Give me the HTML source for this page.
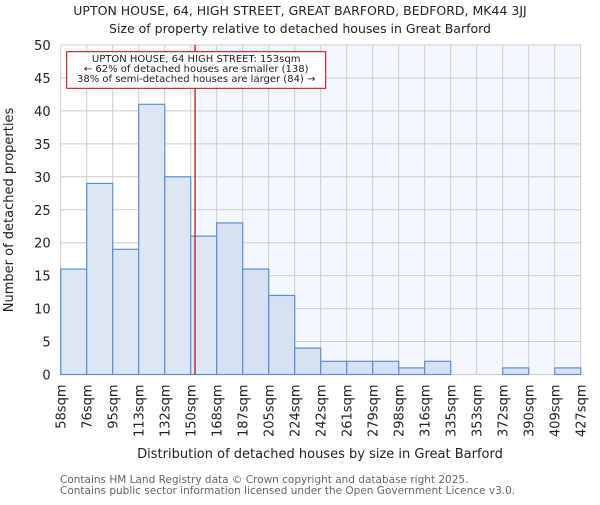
<!DOCTYPE html>
<html><head><meta charset="utf-8"><style>
body{margin:0;background:#fff;}
svg text{font-family:"DejaVu Sans","Liberation Sans",sans-serif;}
</style></head><body>
<svg width="600" height="500" xmlns="http://www.w3.org/2000/svg" id="chart">
<text x="300" y="15" text-anchor="middle" font-size="12.5" fill="#222">UPTON HOUSE, 64, HIGH STREET, GREAT BARFORD, BEDFORD, MK44 3JJ</text>
<text x="300" y="33" text-anchor="middle" font-size="12.5" fill="#222">Size of property relative to detached houses in Great Barford</text>
<g id="plot"></g>
<text x="320" y="458" text-anchor="middle" font-size="13" fill="#222">Distribution of detached houses by size in Great Barford</text>
<text transform="translate(13,210) rotate(-90)" text-anchor="middle" font-size="13" fill="#222">Number of detached properties</text>
<text x="60" y="483" font-size="10.5" fill="#666">Contains HM Land Registry data © Crown copyright and database right 2025.</text>
<text x="60" y="494" font-size="10.5" fill="#666">Contains public sector information licensed under the Open Government Licence v3.0.</text>
</svg>
<script>
const categories=["58sqm","76sqm","95sqm","113sqm","132sqm","150sqm","168sqm","187sqm","205sqm","224sqm","242sqm","261sqm","279sqm","298sqm","316sqm","335sqm","353sqm","372sqm","390sqm","409sqm","427sqm"];
const counts=[16,29,19,41,30,21,23,16,12,4,2,2,2,1,2,0,0,1,0,1];
const yTicks=[0,5,10,15,20,25,30,35,40,45,50];
const edgeValues=[58,76,95,113,132,150,168,187,205,224,242,261,279,298,316,335,353,372,390,409,427];
const markerValue=153;
const NS="http://www.w3.org/2000/svg";
const X0=60.7,X1=580.7,Y0=374.5,Y1=45;
const bw=(X1-X0)/counts.length;
function xIdx(i){return X0+i*bw;}
function xVal(v){for(let i=0;i<edgeValues.length-1;i++){if(v<=edgeValues[i+1]){return xIdx(i)+(v-edgeValues[i])/(edgeValues[i+1]-edgeValues[i])*bw;}}return X1;}
function y(v){return Y0-(v/50)*(Y0-Y1);}
const g=document.getElementById('plot');
function mk(t,a){const e=document.createElementNS(NS,t);for(const k in a)e.setAttribute(k,a[k]);g.appendChild(e);return e;}
const mx=xVal(markerValue);
let e=mk('rect',{x:mx,y:Y1,width:X1-mx,height:Y0-Y1,fill:'#f3f6fd'});


yTicks.forEach(t=>{
 let l=mk('line',{x1:X0,x2:X1,y1:y(t),y2:y(t),stroke:'#cccccc','stroke-width':1});
 
 
 let tx=mk('text',{x:X0-10,y:y(t)+5,'text-anchor':'end','font-size':13,fill:'#222'});tx.textContent=t;
 
 
});
categories.forEach((c,i)=>{
 let l=mk('line',{x1:xIdx(i),x2:xIdx(i),y1:Y1,y2:Y0,stroke:'#cccccc','stroke-width':1});
 
 
 const xx=xIdx(i)+5;
 let tx=mk('text',{x:0,y:0,transform:`translate(${xx},${Y0+10}) rotate(-90)`,'text-anchor':'end','font-size':13,fill:'#222'});tx.textContent=c;
 
 
});
counts.forEach((v,i)=>{
 if(v<=0)return;
 const right=xIdx(i)>=mx-1;
 let r=mk('rect',{x:xIdx(i),y:y(v),width:bw,height:Y0-y(v),fill:right?'#d6e1f4':'#dde7f4',stroke:'#5b8fd6','stroke-width':1.2});
 
 
});
let ml=mk('line',{x1:mx,x2:mx,y1:Y1,y2:Y0,stroke:'#c00000','stroke-width':1.2});


let bx=mk('rect',{x:66.7,y:51.7,width:259,height:36.6,fill:'#fff',stroke:'#c00000','stroke-width':1});


["UPTON HOUSE, 64 HIGH STREET: 153sqm","← 62% of detached houses are smaller (138)","38% of semi-detached houses are larger (84) →"].forEach((s,i)=>{
 let t=mk('text',{x:196.2,y:62+i*10,'text-anchor':'middle','font-size':10,fill:'#222'});t.textContent=s;
 
 
});
</script>
</body></html>
